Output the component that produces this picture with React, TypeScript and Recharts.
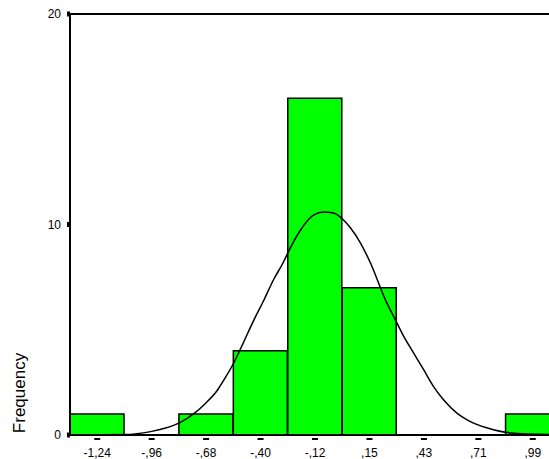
import { ComposedChart, Bar, Line, XAxis, YAxis, ReferenceLine } from 'recharts'

const CATEGORIES = ['-1,24', '-,96', '-,68', '-,40', '-,12', ',15', ',43', ',71', ',99']
const COUNTS = [1, 0, 1, 4, 16, 7, 0, 0, 1]

// normal curve (x in data units, y in frequency)
const CURVE_X = [
  -1.377, -1.1, -0.967, -0.89, -0.814, -0.747, -0.686, -0.624, -0.592, -0.541, -0.506, -0.438,
  -0.387, -0.336, -0.293, -0.242, -0.199, -0.133, -0.081, -0.03, 0.021, 0.057, 0.108, 0.159,
  0.236, 0.287, 0.33, 0.381, 0.432, 0.483, 0.534, 0.603, 0.656, 0.758, 0.876, 1.075,
]
const CURVE_Y = [
  0, 0.02, 0.16, 0.33, 0.6, 1.0, 1.5, 2.14, 2.61, 3.42, 4.1, 5.46,
  6.4, 7.4, 8.1, 9.06, 9.74, 10.45, 10.59, 10.55, 10.21, 9.83, 9.12, 8.17,
  6.41, 5.46, 4.67, 3.88, 3.09, 2.29, 1.66, 1.03, 0.71, 0.33, 0.1, 0.02,
]
const Y_TICKS = [0, 10, 20]

const FONT = '"Liberation Sans", Arial, sans-serif'

const barData = CATEGORIES.map((label, i) => ({ label, count: COUNTS[i] }))
const curveData = CURVE_X.map((x, i) => ({ x, y: CURVE_Y[i] }))

function XTick(props: any) {
  const { x, y, payload } = props
  return (
    <g>
      <rect x={x - 3} y={y + 3} width={6} height={2} fill="#000" />
      <text x={x} y={y + 22} textAnchor="middle" fontSize={12} fontFamily={FONT} fill="#000">
        {payload.value}
      </text>
    </g>
  )
}

export default function App() {
  return (
    <div style={{ position: 'absolute', left: 0, top: 0, width: 549, height: 459, overflow: 'hidden', background: '#fff' }}>
      <ComposedChart
        width={560}
        height={459}
        data={barData}
        margin={{ top: 14, right: 0, left: 0, bottom: 0 }}
        barCategoryGap={0}
        barGap={0}
      >
        <XAxis
          dataKey="label"
          height={24}
          axisLine={{ stroke: '#000', strokeWidth: 2 }}
          tickLine={false}
          tickSize={0}
          tickMargin={0}
          interval={0}
          tick={<XTick />}
        />
        <XAxis
          xAxisId="curve"
          type="number"
          dataKey="x"
          domain={[-1.379375, 1.129375]}
          allowDataOverflow
          hide
        />
        <YAxis
          width={70}
          domain={[0, 20]}
          ticks={Y_TICKS}
          axisLine={{ stroke: '#000', strokeWidth: 2 }}
          tickLine={{ stroke: '#000', strokeWidth: 5 }}
          tickSize={3}
          tickMargin={6}
          tick={{ fontSize: 12, fontFamily: FONT, fill: '#000' }}
          label={{
            content: () => (
              <text
                transform="translate(25,393) rotate(-90)"
                textAnchor="middle"
                fontSize={17}
                fontFamily={FONT}
                fill="#000"
              >
                Frequency
              </text>
            ),
          }}
        />
        <ReferenceLine y={20} stroke="#000" strokeWidth={2} />
        <Bar dataKey="count" fill="#00ff00" stroke="#000" strokeWidth={1.5} isAnimationActive={false} />
        <Line
          xAxisId="curve"
          data={curveData}
          dataKey="y"
          type="monotone"
          stroke="#000"
          strokeWidth={1.5}
          dot={false}
          activeDot={false}
          isAnimationActive={false}
        />
      </ComposedChart>
    </div>
  )
}
